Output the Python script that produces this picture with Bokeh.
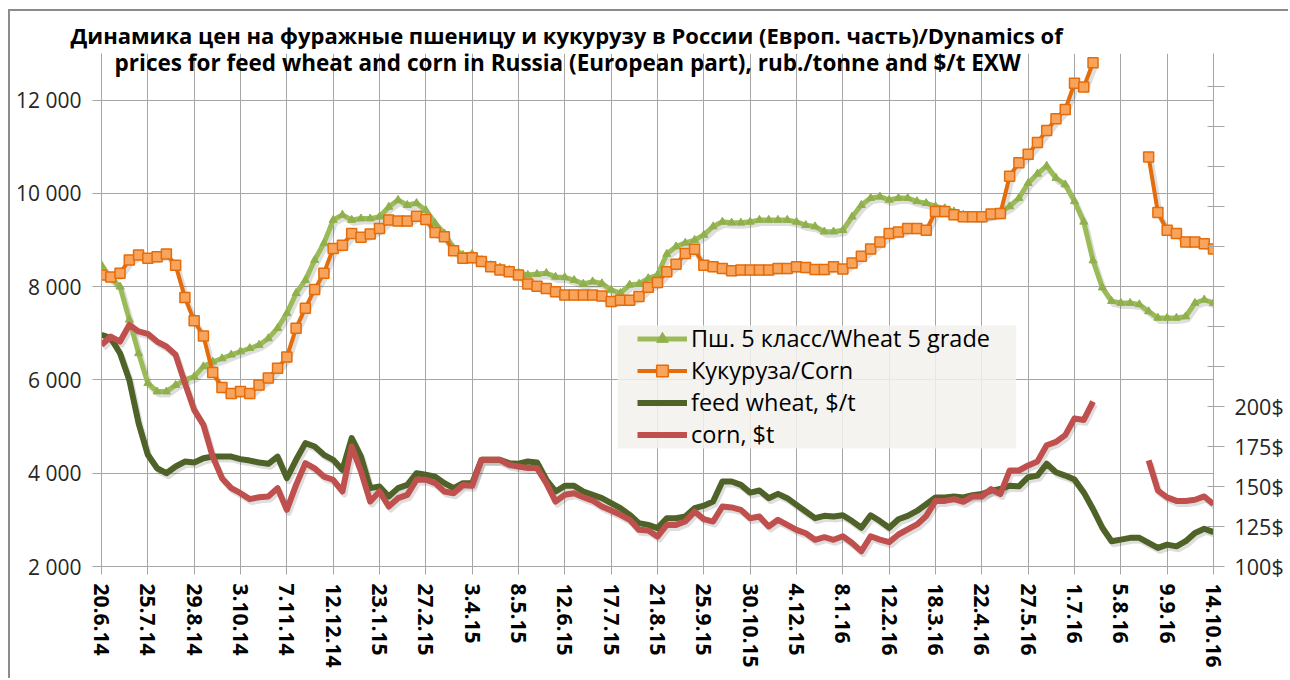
import numpy as np
from bokeh.plotting import figure
from bokeh.models import (Range1d, LinearAxis, FixedTicker, SingleIntervalTicker,
                          CustomJSTickFormatter, Legend, LegendItem, Label, Title,
                          BoxAnnotation, ColumnDataSource)
from bokeh.embed import file_html
from bokeh.resources import INLINE

# ---------------- data ----------------
tick_labels = ["20.6.14", "25.7.14", "29.8.14", "3.10.14", "7.11.14", "12.12.14",
               "23.1.15", "27.2.15", "3.4.15", "8.5.15", "12.6.15", "17.7.15",
               "21.8.15", "25.9.15", "30.10.15", "4.12.15", "8.1.16", "12.2.16",
               "18.3.16", "22.4.16", "27.5.16", "1.7.16", "5.8.16", "9.9.16", "14.10.16"]

# Пш. 5 класс / Wheat 5 grade, rub/t (weekly)
wheat_rub = [8460, 8180, 8000, 7290, 6570, 5930, 5750, 5750, 5890, 6000,
             6070, 6290, 6390, 6460, 6540, 6610, 6680, 6750, 6890, 7110,
             7430, 7860, 8140, 8570, 8930, 9430, 9540, 9430, 9460, 9460,
             9500, 9710, 9860, 9750, 9790, 9640, 9360, 9140, 8820, 8680,
             8700, 8570, 8460, 8410, 8360, 8300, 8250, 8270, 8290, 8210,
             8200, 8140, 8060, 8110, 8070, 7930, 7860, 8040, 8060, 8180,
             8250, 8700, 8860, 8940, 9000, 9110, 9290, 9390, 9370, 9370,
             9390, 9430, 9430, 9430, 9430, 9390, 9320, 9290, 9180, 9180,
             9210, 9500, 9750, 9900, 9930, 9860, 9900, 9900, 9830, 9790,
             9720, 9680, 9610, 9540, 9500, 9500, 9540, 9610, 9720, 9900,
             10220, 10420, 10590, 10330, 10190, 9830, 9390, 8560, 7980, 7690,
             7650, 7650, 7620, 7470, 7330, 7330, 7330, 7360, 7650, 7720,
             7650]

# Кукуруза / Corn, rub/t
corn_rub = [8250, 8210, 8290, 8570, 8680, 8610, 8640, 8700, 8460, 7770,
            7270, 6940, 6160, 5840, 5710, 5750, 5710, 5890, 6040, 6250,
            6490, 7110, 7540, 7940, 8290, 8820, 8890, 9140, 9060, 9130,
            9250, 9430, 9410, 9410, 9510, 9440, 9160, 9070, 8770, 8610,
            8620, 8540, 8430, 8360, 8320, 8250, 8060, 8010, 7960, 7890,
            7820, 7820, 7820, 7820, 7800, 7680, 7710, 7710, 7790, 7990,
            8090, 8320, 8480, 8710, 8800, 8460, 8430, 8390, 8340, 8360,
            8360, 8360, 8360, 8390, 8390, 8430, 8410, 8370, 8370, 8430,
            8380, 8510, 8650, 8810, 8960, 9140, 9170, 9250, 9250, 9210,
            9610, 9610, 9540, 9500, 9500, 9500, 9560, 9570, 10370, 10660,
            10840, 11090, 11350, 11600, 11800, 12360, 12280, 12800, None, None,
            None, None, None, 10780, 9590, 9210, 9140, 8960, 8960, 8920,
            8810]

# feed wheat, $/t
wheat_usd = [244.8, 242.7, 233.3, 216.6, 189.6, 169.8, 161.4, 158.3, 162.5, 165.6,
             165.0, 167.7, 168.7, 168.7, 168.7, 167.1, 166.2, 165.0, 164.2, 168.7,
             155.2, 166.7, 177.1, 175.0, 169.8, 166.7, 160.4, 180.2, 168.7, 149.0,
             150.0, 143.7, 149.0, 151.0, 158.3, 157.3, 156.2, 152.1, 149.0, 152.1,
             152.1, 166.7, 166.7, 166.7, 164.6, 164.2, 165.6, 165.0, 154.2, 146.9,
             150.4, 150.4, 146.9, 144.8, 142.7, 139.6, 136.5, 132.3, 127.1, 126.0,
             124.0, 130.2, 130.2, 131.2, 136.5, 138.0, 140.6, 153.1, 153.1, 151.0,
             146.2, 147.5, 142.7, 145.4, 142.7, 138.5, 134.4, 130.2, 131.7, 131.2,
             132.0, 128.4, 124.2, 132.0, 128.4, 124.2, 129.5, 131.6, 134.7, 138.9,
             143.2, 143.2, 143.8, 143.2, 144.6, 145.3, 147.4, 148.4, 150.5, 150.1,
             155.8, 156.8, 164.2, 158.9, 156.8, 154.3, 146.3, 135.8, 124.2, 115.8,
             116.8, 117.9, 117.9, 114.7, 111.6, 113.7, 112.6, 115.8, 121.0, 123.6,
             121.5]

# corn, $/t
corn_usd = [238.5, 243.7, 240.6, 251.0, 246.9, 245.4, 240.6, 237.5, 232.3, 214.6,
            197.9, 188.5, 168.7, 155.2, 149.0, 145.8, 142.1, 143.3, 143.7, 149.0,
            135.4, 151.0, 164.6, 161.4, 156.2, 154.2, 146.9, 175.0, 159.4, 140.6,
            146.9, 137.5, 142.7, 144.8, 154.2, 154.2, 152.1, 146.9, 145.8, 151.0,
            150.4, 166.7, 166.7, 166.7, 163.5, 162.5, 161.5, 161.5, 152.1, 140.6,
            144.8, 145.8, 143.3, 141.2, 137.5, 135.0, 132.3, 129.2, 122.9, 122.5,
            118.7, 126.0, 126.0, 128.1, 134.4, 129.6, 128.1, 137.5, 136.9, 135.4,
            130.2, 131.2, 125.0, 129.2, 126.0, 122.9, 120.8, 116.7, 118.3, 116.7,
            118.9, 114.7, 109.5, 118.9, 116.8, 115.2, 120.0, 123.2, 126.3, 131.6,
            141.0, 141.0, 142.1, 140.4, 143.8, 143.8, 148.4, 145.3, 160.0, 160.0,
            163.2, 165.7, 175.8, 177.9, 182.1, 192.6, 191.6, 203.1, None, None,
            None, None, None, 166.3, 147.4, 143.2, 141.0, 141.0, 141.7, 143.8,
            138.9]

series_names = ["Пш. 5 класс/Wheat 5 grade", "Кукуруза/Corn", "feed wheat, $/t", "corn, $t"]
title_lines = ["Динамика цен на фуражные пшеницу и кукурузу в России (Европ. часть)/Dynamics of",
               "prices for feed wheat and corn in Russia (European part), rub./tonne and $/t EXW"]


def arr(v):
    return np.array([np.nan if a is None else a for a in v], dtype=float)


n = len(wheat_rub)
idx = np.arange(n)
src = ColumnDataSource(dict(x=idx, wr=arr(wheat_rub), cr=arr(corn_rub),
                            wu=arr(wheat_usd), cu=arr(corn_usd)))

FONT = "Open Sans"
GRID = "#a6a6a6"
Y0, Y1 = 2000, 13000
U0, U1 = 100, 420.625
PX_L = (Y1 - Y0) / 513.0      # rub per pixel
PX_U = (U1 - U0) / 513.0      # $ per pixel
PX_X = (n - 1) / 1112.0       # index per pixel

p = figure(width=1288, height=678, output_backend="svg", toolbar_location=None,
           x_range=Range1d(0, n - 1), y_range=Range1d(Y0, Y1),
           min_border_left=101, min_border_right=75, min_border_top=53,
           min_border_bottom=112)
p.extra_y_ranges = {"usd": Range1d(U0, U1),
                    "lsh": Range1d(Y0 + 3 * PX_L, Y1 + 3 * PX_L),
                    "ush": Range1d(U0 + 3 * PX_U, U1 + 3 * PX_U)}
p.extra_x_ranges = {"xsh": Range1d(-2 * PX_X, n - 1 - 2 * PX_X)}
p.outline_line_color = None
p.background_fill_color = "white"
p.border_fill_color = None
p.styles = {"background": "linear-gradient(#8c8c8c, #8c8c8c) 8px 9px / 2px 100% no-repeat, "
                          "linear-gradient(#8c8c8c, #8c8c8c) 8px 9px / 100% 2px no-repeat, #ffffff"}

# bottom axis
xa = p.xaxis[0]
xa.ticker = FixedTicker(ticks=list(range(0, n, 5)))
xa.major_label_overrides = {i * 5: lab for i, lab in enumerate(tick_labels)}
xa.major_label_orientation = "vertical"
xa.major_label_text_font = FONT
xa.major_label_text_font_style = "bold"
xa.major_label_text_font_size = "21px"
xa.major_label_text_color = "black"
xa.major_label_standoff = 9
xa.major_tick_in = 0
xa.major_tick_out = 8
xa.minor_tick_line_color = None
xa.axis_line_color = GRID
xa.major_tick_line_color = GRID

# left axis
ya = p.yaxis[0]
ya.ticker = SingleIntervalTicker(interval=2000)
ya.formatter = CustomJSTickFormatter(
    code=r"return Math.round(tick).toString().replace(/\B(?=(\d{3})+(?!\d))/g, ' ');")
ya.major_label_text_font = FONT
ya.major_label_text_font_size = "21px"
ya.major_label_text_color = "#262626"
ya.major_label_standoff = 11
ya.major_tick_in = 0
ya.major_tick_out = 9
ya.minor_tick_line_color = None
ya.axis_line_color = GRID
ya.major_tick_line_color = GRID

# right axis ($)
ra = LinearAxis(y_range_name="usd", ticker=SingleIntervalTicker(interval=25),
                formatter=CustomJSTickFormatter(
                    code="return tick <= 200 ? tick.toFixed(0) + '$' : '';"))
ra.major_label_text_font = FONT
ra.major_label_text_font_size = "21.5px"
ra.major_label_text_color = "#262626"
ra.major_label_standoff = 10
ra.major_tick_in = 6
ra.major_tick_out = 11
ra.minor_tick_line_color = None
ra.axis_line_color = GRID
ra.major_tick_line_color = GRID
p.add_layout(ra, "right")

p.xgrid.ticker = FixedTicker(ticks=list(range(0, n, 5)))
p.xgrid.grid_line_color = GRID
p.ygrid.grid_line_color = GRID

# shadows
SH = dict(line_color="black", line_alpha=0.13, line_join="round", x_range_name="xsh")
p.line("x", "wr", source=src, y_range_name="lsh", line_width=6, **SH)
p.line("x", "cr", source=src, y_range_name="lsh", line_width=6, **SH)
p.line("x", "wu", source=src, y_range_name="ush", line_width=6, **SH)
p.line("x", "cu", source=src, y_range_name="ush", line_width=6, **SH)

# series
l1 = p.line("x", "wr", source=src, line_color="#9bbb59", line_width=5, line_join="round")
m1 = p.scatter("x", "wr", source=src, marker="triangle", size=8,
               fill_color="#8fb04d", line_color="#8fb04d")
l2 = p.line("x", "cr", source=src, line_color="#e46c0a", line_width=4, line_join="round")
m2 = p.scatter("x", "cr", source=src, marker="square", size=10,
               fill_color="#f9a45c", line_color="#e46c0a", line_width=1.5)
l3 = p.line("x", "wu", source=src, y_range_name="usd", line_color="#4f6228",
            line_width=6, line_join="round")
l4 = p.line("x", "cu", source=src, y_range_name="usd", line_color="#c0504d",
            line_width=6, line_join="round")

# legend
bg = BoxAnnotation(left=55.7, right=98.7, bottom=4530, top=7170,
                   fill_color="#f2f1ec", fill_alpha=0.85, line_color=None)
p.add_layout(bg)
legend = Legend(items=[LegendItem(label=series_names[0], renderers=[l1, m1]),
                       LegendItem(label=series_names[1], renderers=[l2, m2]),
                       LegendItem(label=series_names[2], renderers=[l3]),
                       LegendItem(label=series_names[3], renderers=[l4])],
                location=(534, 114), padding=2, spacing=-1, label_height=29,
                glyph_height=29, glyph_width=50, label_standoff=4,
                label_text_font=FONT, label_text_font_size="23.5px",
                label_text_color="black", background_fill_alpha=0,
                border_line_alpha=0)
p.add_layout(legend)

# title
p.add_layout(Title(text=title_lines[0], align="left", offset=-31, standoff=7,
                   text_font=FONT, text_font_style="bold", text_font_size="22px",
                   text_color="black"), "above")
p.add_layout(Label(x=50.3, y=12806, text=title_lines[1],
                   text_align="center", text_baseline="middle", text_font=FONT,
                   text_font_style="bold", text_font_size="22.5px", text_color="black"))

open("out.html", "w").write(file_html(p, INLINE))
